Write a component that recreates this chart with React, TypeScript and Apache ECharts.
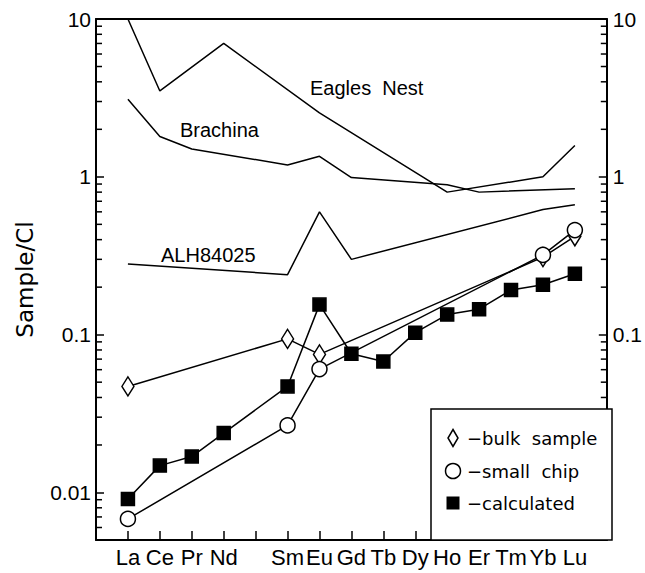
import React, { useEffect, useRef } from "react";
import * as echarts from "echarts";

// Rare earth elements in order of atomic number (La = 57 ... Lu = 71); Pm is left unlabelled.
const REE = ["La", "Ce", "Pr", "Nd", "Pm", "Sm", "Eu", "Gd", "Tb", "Dy", "Ho", "Er", "Tm", "Yb", "Lu"];
const FIRST_Z = 57;

// CI-normalised abundances (null = not measured)
const eaglesNest = [10, 3.5, null, 7.0, null, null, 2.54, null, null, null, 0.8, null, null, 1.0, 1.58];
const brachina = [3.1, 1.8, 1.5, null, null, 1.19, 1.35, 0.99, null, null, 0.89, 0.8, null, null, 0.84];
const alh84025 = [0.28, null, null, null, null, 0.24, 0.6, 0.3, null, null, null, null, null, 0.62, 0.665];
const bulkSample = [0.047, null, null, null, null, 0.094, 0.075, null, null, null, null, null, null, 0.31, 0.42];
const smallChip = [0.0068, null, null, null, null, 0.0266, 0.0605, null, null, null, null, null, null, 0.32, 0.46];
const calculated = [0.0091, 0.0148, 0.0169, 0.0238, null, 0.047, 0.155, 0.0757, 0.0676, 0.103, 0.134, 0.145, 0.192, 0.207, 0.243];

const Y_MIN = 0.005;
const Y_MAX = 10;
const X_MIN = 56;
const X_MAX = 72;
const MINOR_STEPS = [2, 3, 4, 5, 6, 7, 8, 9];
const DECADES = [0.001, 0.01, 0.1, 1];

const FONT = "Liberation Sans";
const FONT_WIDE = "DejaVu Sans";

const toPairs = (vals: (number | null)[]) =>
  vals.map((v, i) => (v == null ? null : [FIRST_Z + i, v])).filter((p) => p !== null) as number[][];

const decadeLabel = (v: number) => {
  const e = Math.log10(v);
  const r = Math.round(e);
  if (Math.abs(e - r) > 1e-6) return "";
  if (r >= 0) return String(Math.pow(10, r));
  return "0." + "0".repeat(-r - 1) + "1";
};

// values of the 2..9 minor ticks that fall inside the y range
const minorTickValues: number[] = [];
DECADES.forEach((d) =>
  MINOR_STEPS.forEach((k) => {
    const v = k * d;
    if (v > Y_MIN * 1.0001 && v < Y_MAX) minorTickValues.push(v);
  })
);

const AXIS_LINE = { show: true, lineStyle: { color: "#000", width: 2 } };

export default function App() {
  const ref = useRef<HTMLDivElement>(null);

  useEffect(() => {
    if (!ref.current) return;
    const chart = echarts.init(ref.current, null, { renderer: "svg" });

    const lineSeries = (name: string, vals: (number | null)[]) => ({
      name,
      type: "line",
      data: toPairs(vals),
      showSymbol: false,
      symbol: "none",
      lineStyle: { color: "#000", width: 1.5 },
      z: 2,
    });

    const markerSeries = (name: string, vals: (number | null)[], symbol: string, size: any, fill: string) => ({
      name,
      type: "line",
      data: toPairs(vals),
      symbol,
      symbolSize: size,
      showAllSymbol: true,
      lineStyle: { color: "#000", width: 1.5 },
      itemStyle: { color: fill, borderColor: "#000", borderWidth: 1.5 },
      z: 3,
    });

    const yAxisBase = {
      type: "log",
      logBase: 10,
      min: Y_MIN,
      max: Y_MAX,
      axisLine: AXIS_LINE,
      axisTick: { show: true, inside: true, length: 8, lineStyle: { color: "#000", width: 1.5 } },
      splitLine: { show: false },
    };

    chart.setOption({
      animation: false,
      backgroundColor: "#fff",
      grid: { left: 96, right: 33, top: 19, bottom: 33, containLabel: false },
      xAxis: [
        {
          type: "value",
          min: X_MIN,
          max: X_MAX,
          interval: 1,
          position: "bottom",
          axisLine: AXIS_LINE,
          axisTick: { show: true, inside: true, length: 9, lineStyle: { color: "#000", width: 1.5 } },
          axisLabel: {
            color: "#000",
            fontFamily: FONT,
            fontSize: 22,
            margin: 6,
            showMinLabel: true,
            showMaxLabel: true,
            formatter: (v: number) => {
              const s = REE[Math.round(v) - FIRST_Z];
              return !s || s === "Pm" ? "" : s;
            },
          },
          splitLine: { show: false },
        },
        {
          type: "value",
          min: X_MIN,
          max: X_MAX,
          position: "top",
          axisLine: AXIS_LINE,
          axisTick: { show: false },
          axisLabel: { show: false },
          splitLine: { show: false },
        },
      ],
      yAxis: [
        {
          ...yAxisBase,
          position: "left",
          name: "Sample/Cl",
          nameLocation: "middle",
          nameGap: 60,
          nameTextStyle: { color: "#000", fontFamily: FONT_WIDE, fontSize: 23 },
          axisLabel: {
            color: "#000",
            fontFamily: FONT,
            fontSize: 21,
            margin: 5,
            showMinLabel: false,
            formatter: (v: number) => decadeLabel(v),
          },
        },
        {
          ...yAxisBase,
          position: "right",
          axisLabel: {
            color: "#000",
            fontFamily: FONT,
            fontSize: 21,
            margin: 6,
            showMinLabel: false,
            formatter: (v: number) => (v < 0.05 ? "" : decadeLabel(v)),
          },
        },
      ],
      series: [
        {
          // short 2..9 minor ticks on both vertical axes
          name: "minor ticks",
          type: "custom",
          silent: true,
          clip: false,
          data: minorTickValues.map((v) => [X_MIN, v]),
          encode: { x: 0, y: 1 },
          renderItem: (_params: any, api: any) => {
            const v = api.value(1);
            const l = api.coord([X_MIN, v]);
            const r = api.coord([X_MAX, v]);
            const st = { stroke: "#000", lineWidth: 1.5 };
            return {
              type: "group",
              children: [
                { type: "line", shape: { x1: l[0], y1: l[1], x2: l[0] + 6, y2: l[1] }, style: st },
                { type: "line", shape: { x1: r[0] - 6, y1: r[1], x2: r[0], y2: r[1] }, style: st },
              ],
            };
          },
          z: 1,
        },
        lineSeries("Eagles Nest", eaglesNest),
        lineSeries("Brachina", brachina),
        lineSeries("ALH84025", alh84025),
        markerSeries("bulk sample", bulkSample, "diamond", [12, 19], "#fff"),
        markerSeries("small chip", smallChip, "circle", 15, "#fff"),
        markerSeries("calculated", calculated, "rect", 13, "#000"),
      ],
    });

    const graphics: any[] = [];
    const annot = (text: string, x: number, y: number) => ({
      type: "text",
      x,
      y,
      style: { text, fill: "#000", font: `20px "${FONT}"`, textVerticalAlign: "middle" },
      z: 60,
    });
    graphics.push(annot("Eagles  Nest", 310, 88));
    graphics.push(annot("Brachina", 180, 130));
    graphics.push(annot("ALH84025", 161, 255));

    // Legend box in the lower right corner
    const xR = 612;
    const yB = 540;
    const legendFont = `18px "${FONT_WIDE}"`;
    graphics.push({
      type: "group",
      z: 100,
      children: [
        {
          type: "rect",
          shape: { x: 431, y: 409, width: xR - 431, height: yB - 409 },
          style: { fill: "#fff", stroke: "#000", lineWidth: 1.5 },
          z: 100,
        },
        {
          type: "polygon",
          shape: { points: [[453, 429.5], [458, 438], [453, 446.5], [448, 438]] },
          style: { fill: "#fff", stroke: "#000", lineWidth: 1.5 },
          z: 101,
        },
        {
          type: "circle",
          shape: { cx: 453, cy: 471, r: 7.5 },
          style: { fill: "#fff", stroke: "#000", lineWidth: 1.5 },
          z: 101,
        },
        {
          type: "rect",
          shape: { x: 446.5, y: 496.5, width: 13, height: 13 },
          style: { fill: "#000" },
          z: 101,
        },
        { type: "text", x: 467, y: 438, style: { text: "\u2212bulk  sample", fill: "#000", font: legendFont, textVerticalAlign: "middle" }, z: 101 },
        { type: "text", x: 467, y: 471, style: { text: "\u2212small  chip", fill: "#000", font: legendFont, textVerticalAlign: "middle" }, z: 101 },
        { type: "text", x: 467, y: 503, style: { text: "\u2212calculated", fill: "#000", font: legendFont, textVerticalAlign: "middle" }, z: 101 },
      ],
    });

    chart.setOption({ graphic: graphics });

    return () => chart.dispose();
  }, []);

  return <div ref={ref} style={{ width: 645, height: 573, position: "absolute", left: 0, top: 0 }} />;
}
